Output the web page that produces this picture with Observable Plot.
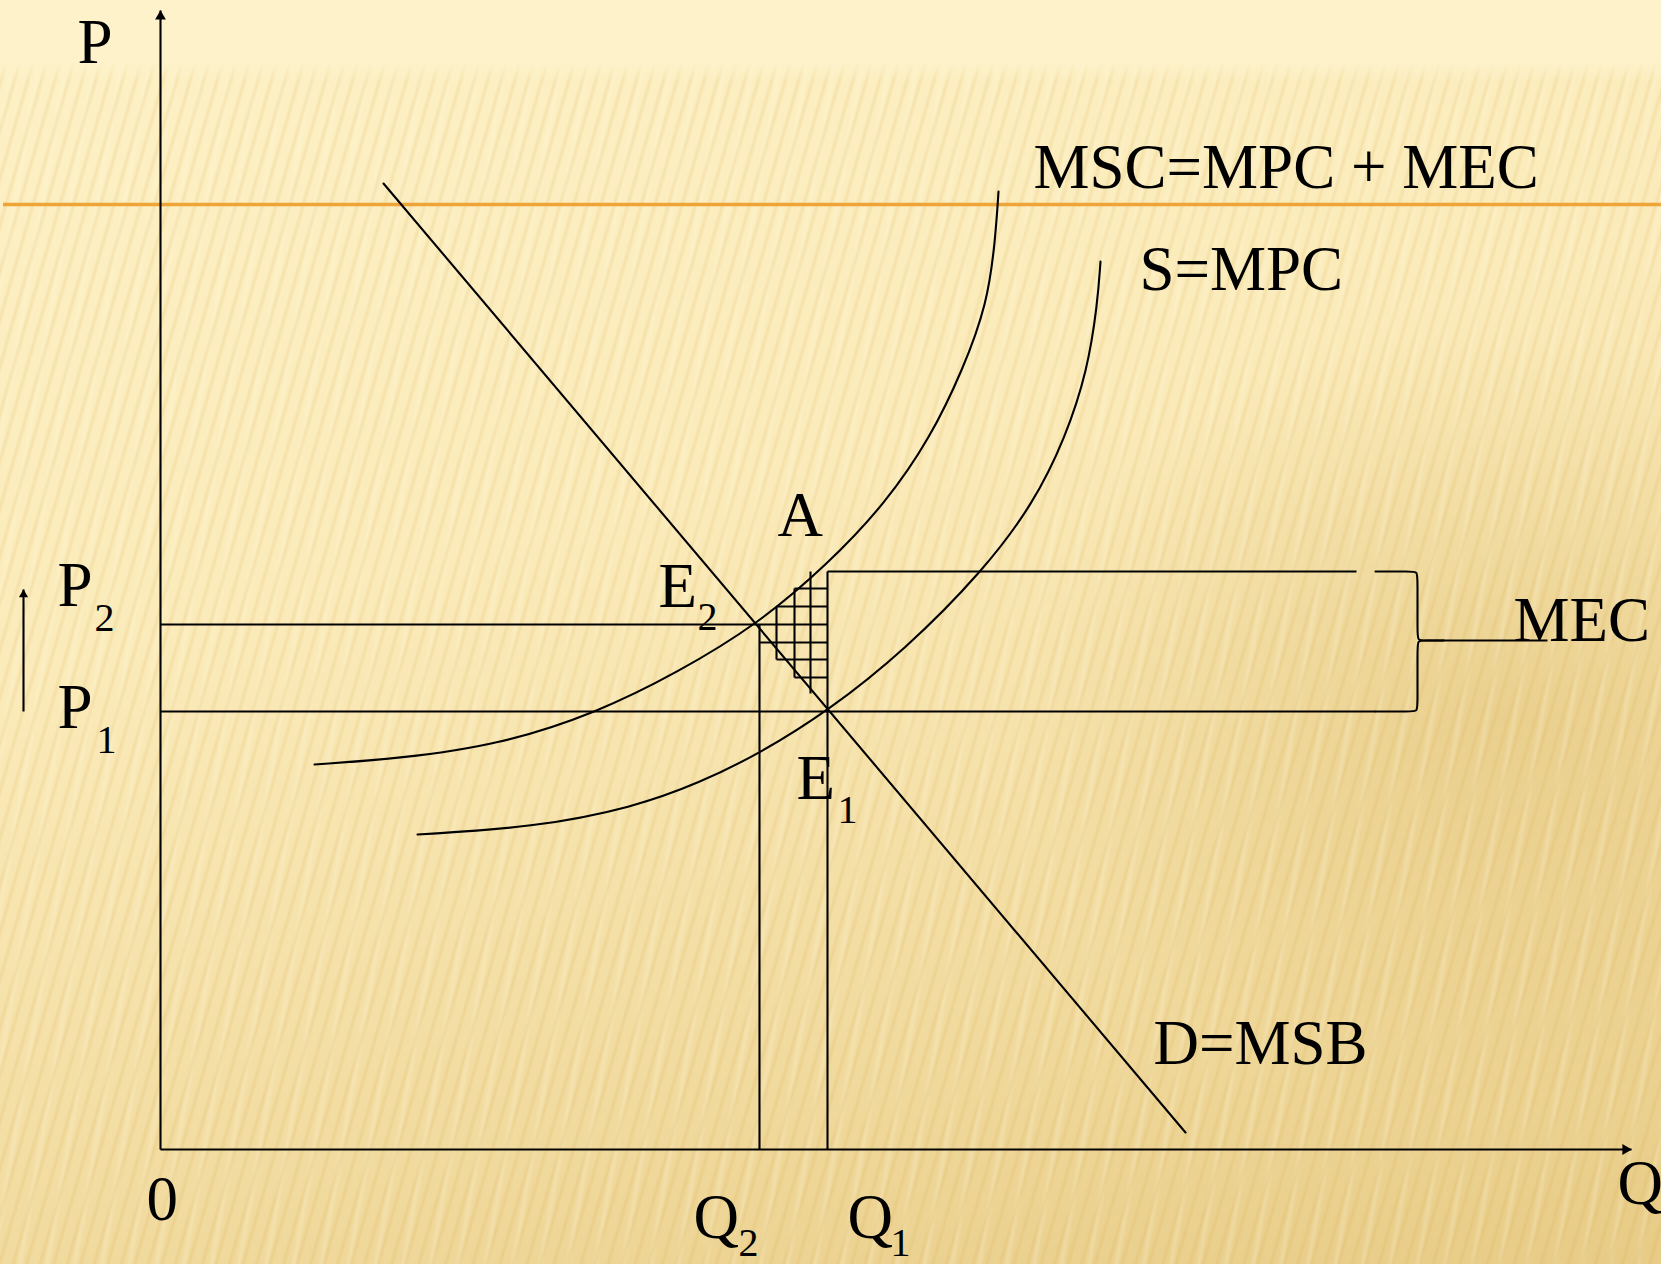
<!DOCTYPE html>
<html>
<head>
<meta charset="utf-8">
<script src="https://cdn.jsdelivr.net/npm/d3@7"></script>
<script src="https://cdn.jsdelivr.net/npm/@observablehq/plot@0.6"></script>
<style>
  html, body { margin: 0; padding: 0; }
  body {
    width: 1661px; height: 1264px; overflow: hidden;
    background:
      linear-gradient(to bottom, #FDF2CA 0px, #FDF2CA 62px, rgba(253,242,202,0) 82px),
      repeating-linear-gradient(106deg, rgba(205,160,60,0) 0px, rgba(205,160,60,0) 7px, rgba(205,160,60,0.15) 10px, rgba(205,160,60,0) 13px),
      repeating-linear-gradient(100deg, rgba(255,250,225,0) 0px, rgba(255,250,225,0) 19px, rgba(255,250,225,0.22) 23px, rgba(255,250,225,0) 27px),
      radial-gradient(ellipse 650px 520px at 1500px 720px, rgba(214,178,95,0.33), rgba(214,178,95,0) 75%),
      linear-gradient(165deg, #FDF1C6 0%, #FBEBBA 40%, #F1DA9E 75%, #E7CB86 100%);
  }
  #chart svg { display: block; background: transparent; }
</style>
</head>
<body>
<div id="chart"></div>
<script>
// ---- data (Q and P in diagram units) ----
const P1 = 43.8, P2 = 52.5, Q1 = 66.7, Q2 = 59.9;
const PA = 57.8;            // price on MSC at Q1 (point A)
const axisQmax = 147.1, axisPmax = 113.9;

const demandQ = [22.3, 102.5];
const demandP = [96.6, 1.7];

const mscQ = [15.4, 24.0, 34.0, 43.7, 51.7, 59.7, 66.7, 72.5, 77.0, 80.2, 82.7, 83.5, 83.8];
const mscP = [38.5, 39.1, 40.5, 43.7, 47.7, 52.5, 58.5, 64.6, 71.2, 77.9, 84.6, 91.2, 95.8];

const mpcQ = [25.7, 37.3, 47.3, 54.0, 59.9, 66.7, 74.5, 82.3, 87.3, 90.5, 92.7, 93.7, 94.0];
const mpcP = [31.5, 32.2, 34.2, 36.7, 39.6, 43.8, 50.0, 57.9, 64.6, 71.2, 77.9, 84.6, 88.8];

// hatched welfare-loss grid
const hatchRowP = [56.1, 54.3, 50.7, 49.0, 47.2];
const hatchRowQstart = [63.4, 61.6, 59.9, 61.6, 63.4];
const hatchColQ = [61.6, 63.4, 65.0];
const hatchColPtop = [54.3, 56.1, 57.8];
const hatchColPbottom = [49.0, 47.2, 45.6];

// MEC rectangle and brace (control points)
const rectEndQ = 119.6;
const braceUpperQ = [121.5, 125.0, 125.7, 125.7, 125.7, 125.7, 126.4, 128.3];
const braceUpperP = [57.8, 57.8, 57.8, 57.0, 51.7, 50.9, 50.9, 50.9];
const braceLowerQ = [128.3, 126.4, 125.7, 125.7, 125.7, 125.7, 125.0, 121.5];
const braceLowerP = [50.9, 50.9, 50.9, 50.1, 44.6, 43.8, 43.8, 43.8];
const mecLineQ = [128.3, 138.7];
const mecLineP = 50.9;

// orange rule
const orangeP = 94.5, orangeQ = [-15.7, 150.1];

// price-rise arrow at left
const riseQ = -13.7, riseP = [43.8, 56.0];

// labels
const labelText = ["P", "MSC=MPC + MEC", "S=MPC", "A", "E", "MEC", "P", "P", "E", "0", "Q", "Q", "Q", "D=MSB"];
const labelQ    = [-8.3, 87.3, 97.9, 61.7, 49.8, 135.3, -10.3, -10.3, 63.6, -1.4, 53.3, 68.7, 145.7, 99.3];
const labelP    = [108.7, 96.2, 86.0, 61.4, 54.3, 50.9, 54.4, 42.2, 35.1, -7.0, -8.8, -8.8, -5.4, 8.6];

const subText = ["2", "2", "1", "1", "2", "1"];
const subQ    = [53.7, -6.6, -6.4, 67.7, 57.8, 73.0];
const subP    = [52.0, 51.9, 39.7, 32.7, -10.6, -10.6];

// ---- build tables ----
const zip = (qs, ps) => qs.map((q, i) => ({q, p: Array.isArray(ps) ? ps[i] : ps}));
const segs = [];
const seg = (q1, p1, q2, p2) => segs.push({q1, p1, q2, p2});
// axes
seg(0, 0, axisQmax, 0);
seg(0, 0, 0, axisPmax);
// price / quantity guides
seg(0, P2, Q1, P2);
seg(0, P1, braceLowerQ[braceLowerQ.length - 1], P1);
seg(Q2, 0, Q2, P2);
seg(Q1, 0, Q1, PA);
seg(Q1, PA, rectEndQ, PA);
// hatch
hatchRowP.forEach((p, i) => seg(hatchRowQstart[i], p, Q1, p));
hatchColQ.forEach((q, i) => seg(q, hatchColPtop[i], q, hatchColPbottom[i]));
// MEC pointer line
seg(mecLineQ[0], mecLineP, mecLineQ[1], mecLineP);
// rise arrow shaft
seg(riseQ, riseP[0], riseQ, riseP[1]);

const heads = [
  {q: 0, p: axisPmax, rot: 0, dx: 0, dy: 6, r: 4},
  {q: axisQmax, p: 0, rot: 90, dx: -6, dy: 0, r: 4},
  {q: riseQ, p: riseP[1], rot: 0, dx: 0, dy: 5, r: 3.4}
];

const labels = labelText.map((t, i) => ({t, q: labelQ[i], p: labelP[i]}));
const subs = subText.map((t, i) => ({t, q: subQ[i], p: subP[i]}));

const font = "Liberation Serif, Times New Roman, serif";
const ink = "#000";
const sw = 2.1;

const chart = Plot.plot({
  width: 1661,
  height: 1264,
  marginLeft: 160,
  marginRight: 0,
  marginTop: 0,
  marginBottom: 115,
  x: {domain: [0, 150.1], axis: null},
  y: {domain: [0, 114.9], axis: null},
  style: {background: "transparent", overflow: "visible"},
  marks: [
    Plot.ruleY([orangeP], {x1: orangeQ[0], x2: orangeQ[1], stroke: "#EFA437", strokeWidth: 3.5}),
    Plot.link(segs, {x1: "q1", y1: "p1", x2: "q2", y2: "p2", stroke: ink, strokeWidth: sw}),
    Plot.line(zip(demandQ, demandP), {x: "q", y: "p", stroke: ink, strokeWidth: sw}),
    Plot.line(zip(mscQ, mscP), {x: "q", y: "p", stroke: ink, strokeWidth: sw, curve: "basis"}),
    Plot.line(zip(mpcQ, mpcP), {x: "q", y: "p", stroke: ink, strokeWidth: sw, curve: "basis"}),
    Plot.line(zip(braceUpperQ, braceUpperP), {x: "q", y: "p", stroke: ink, strokeWidth: sw, curve: "basis"}),
    Plot.line(zip(braceLowerQ, braceLowerP), {x: "q", y: "p", stroke: ink, strokeWidth: sw, curve: "basis"}),
    ...heads.map(h => Plot.dot([h], {x: "q", y: "p", symbol: "triangle", r: h.r, fill: ink, stroke: "none", rotate: h.rot, dx: h.dx, dy: h.dy})),
    Plot.text(labels, {x: "q", y: "p", text: "t", textAnchor: "start", lineAnchor: "bottom", fontFamily: font, fontSize: 63, fill: ink}),
    Plot.text(subs, {x: "q", y: "p", text: "t", textAnchor: "start", lineAnchor: "bottom", fontFamily: font, fontSize: 40, fill: ink})
  ]
});
document.getElementById("chart").appendChild(chart);
</script>
</body>
</html>
